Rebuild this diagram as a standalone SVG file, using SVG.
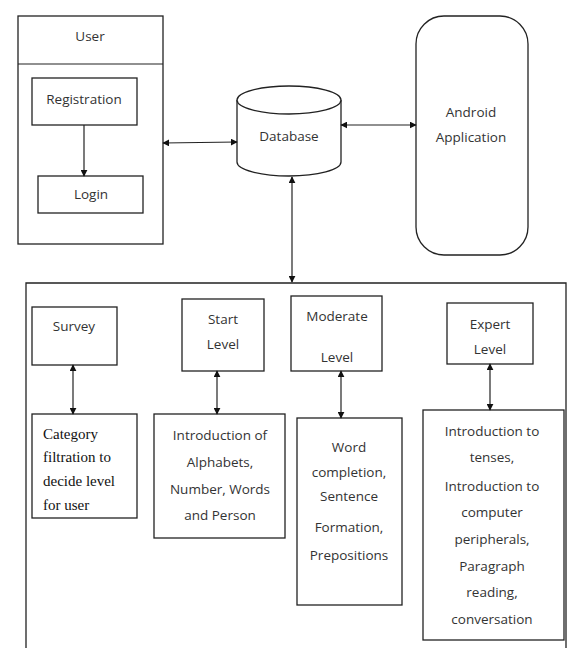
<svg xmlns="http://www.w3.org/2000/svg" width="571" height="648" viewBox="0 0 571 648">
<style>
.box{fill:#fff;stroke:#222;stroke-width:1.3}
.t{font-family:"Open Sans","Liberation Sans",sans-serif;font-size:13.5px;fill:#333;text-anchor:middle}
.s{font-family:"Liberation Serif",serif;font-size:15px;fill:#111}
.c{stroke:#222;stroke-width:1.2;fill:none}
</style>
<defs>
<marker id="ah" viewBox="0 0 10 10" refX="9" refY="5" markerWidth="7" markerHeight="7" orient="auto-start-reverse" markerUnits="userSpaceOnUse">
<path d="M0,0 L10,5 L0,10 z" fill="#111"/>
</marker>
</defs>
<rect width="571" height="648" fill="#fff"/>

<g id="user">
<rect class="box" x="18" y="16" width="145" height="228"/>
<line class="c" x1="18" y1="64" x2="163" y2="64"/>
<text class="t" x="90" y="41">User</text>
</g>
<g id="registration">
<rect class="box" x="32" y="78" width="105" height="47"/>
<text class="t" x="84" y="104">Registration</text>
</g>
<g id="login">
<rect class="box" x="38" y="176" width="105" height="37"/>
<text class="t" x="91" y="199">Login</text>
</g>
<g id="database">
<path class="box" d="M237,100 L237,162 A52,14 0 0 0 341,162 L341,100"/>
<ellipse class="box" cx="289" cy="100" rx="52" ry="14"/>
<text class="t" x="289" y="141">Database</text>
</g>
<g id="android">
<rect class="box" x="416" y="16" width="112" height="239" rx="28" ry="28"/>
<text class="t" x="471" y="117">Android</text>
<text class="t" x="471" y="142">Application</text>
</g>
<g id="levels">
<path class="box" d="M26,648 L26,283 L566,283 L566,648" />
</g>
<g id="survey">
<rect class="box" x="32" y="307" width="85" height="58"/>
<text class="t" x="74" y="331">Survey</text>
</g>
<g id="category">
<rect class="box" x="32" y="414" width="105" height="104"/>
<text class="s" x="43" y="439">Category</text>
<text class="s" x="43" y="462">filtration to</text>
<text class="s" x="43" y="486">decide level</text>
<text class="s" x="43" y="510">for user</text>
</g>
<g id="start">
<rect class="box" x="182" y="299" width="82" height="72"/>
<text class="t" x="223" y="324">Start</text>
<text class="t" x="223" y="349">Level</text>
</g>
<g id="startcontent">
<rect class="box" x="154" y="414" width="131" height="124"/>
<text class="t" x="220" y="440">Introduction of</text>
<text class="t" x="220" y="467">Alphabets,</text>
<text class="t" x="220" y="494">Number, Words</text>
<text class="t" x="220" y="520">and Person</text>
</g>
<g id="moderate">
<rect class="box" x="291" y="296" width="91" height="75"/>
<text class="t" x="337" y="321">Moderate</text>
<text class="t" x="337" y="362">Level</text>
</g>
<g id="moderatecontent">
<rect class="box" x="297" y="418" width="105" height="187"/>
<text class="t" x="349" y="452">Word</text>
<text class="t" x="349" y="477">completion,</text>
<text class="t" x="349" y="501">Sentence</text>
<text class="t" x="349" y="532">Formation,</text>
<text class="t" x="349" y="560">Prepositions</text>
</g>
<g id="expert">
<rect class="box" x="447" y="303" width="86" height="61"/>
<text class="t" x="490" y="329">Expert</text>
<text class="t" x="490" y="354">Level</text>
</g>
<g id="expertcontent">
<rect class="box" x="423" y="410" width="141" height="230"/>
<text class="t" x="492" y="436">Introduction to</text>
<text class="t" x="492" y="462">tenses,</text>
<text class="t" x="492" y="491">Introduction to</text>
<text class="t" x="492" y="517">computer</text>
<text class="t" x="492" y="544">peripherals,</text>
<text class="t" x="492" y="571">Paragraph</text>
<text class="t" x="492" y="597">reading,</text>
<text class="t" x="492" y="624">conversation</text>
</g>

<g id="connectors">
<line class="c" x1="84" y1="125" x2="84" y2="176" marker-end="url(#ah)"/>
<line class="c" x1="163" y1="143" x2="237" y2="142" marker-start="url(#ah)" marker-end="url(#ah)"/>
<line class="c" x1="341" y1="125" x2="416" y2="125" marker-start="url(#ah)" marker-end="url(#ah)"/>
<line class="c" x1="292" y1="177" x2="292" y2="282" marker-start="url(#ah)" marker-end="url(#ah)"/>
<line class="c" x1="73" y1="365" x2="73" y2="414" marker-start="url(#ah)" marker-end="url(#ah)"/>
<line class="c" x1="217" y1="371" x2="217" y2="414" marker-start="url(#ah)" marker-end="url(#ah)"/>
<line class="c" x1="341" y1="371" x2="341" y2="418" marker-start="url(#ah)" marker-end="url(#ah)"/>
<line class="c" x1="490" y1="364" x2="490" y2="410" marker-start="url(#ah)" marker-end="url(#ah)"/>
</g>
</svg>
